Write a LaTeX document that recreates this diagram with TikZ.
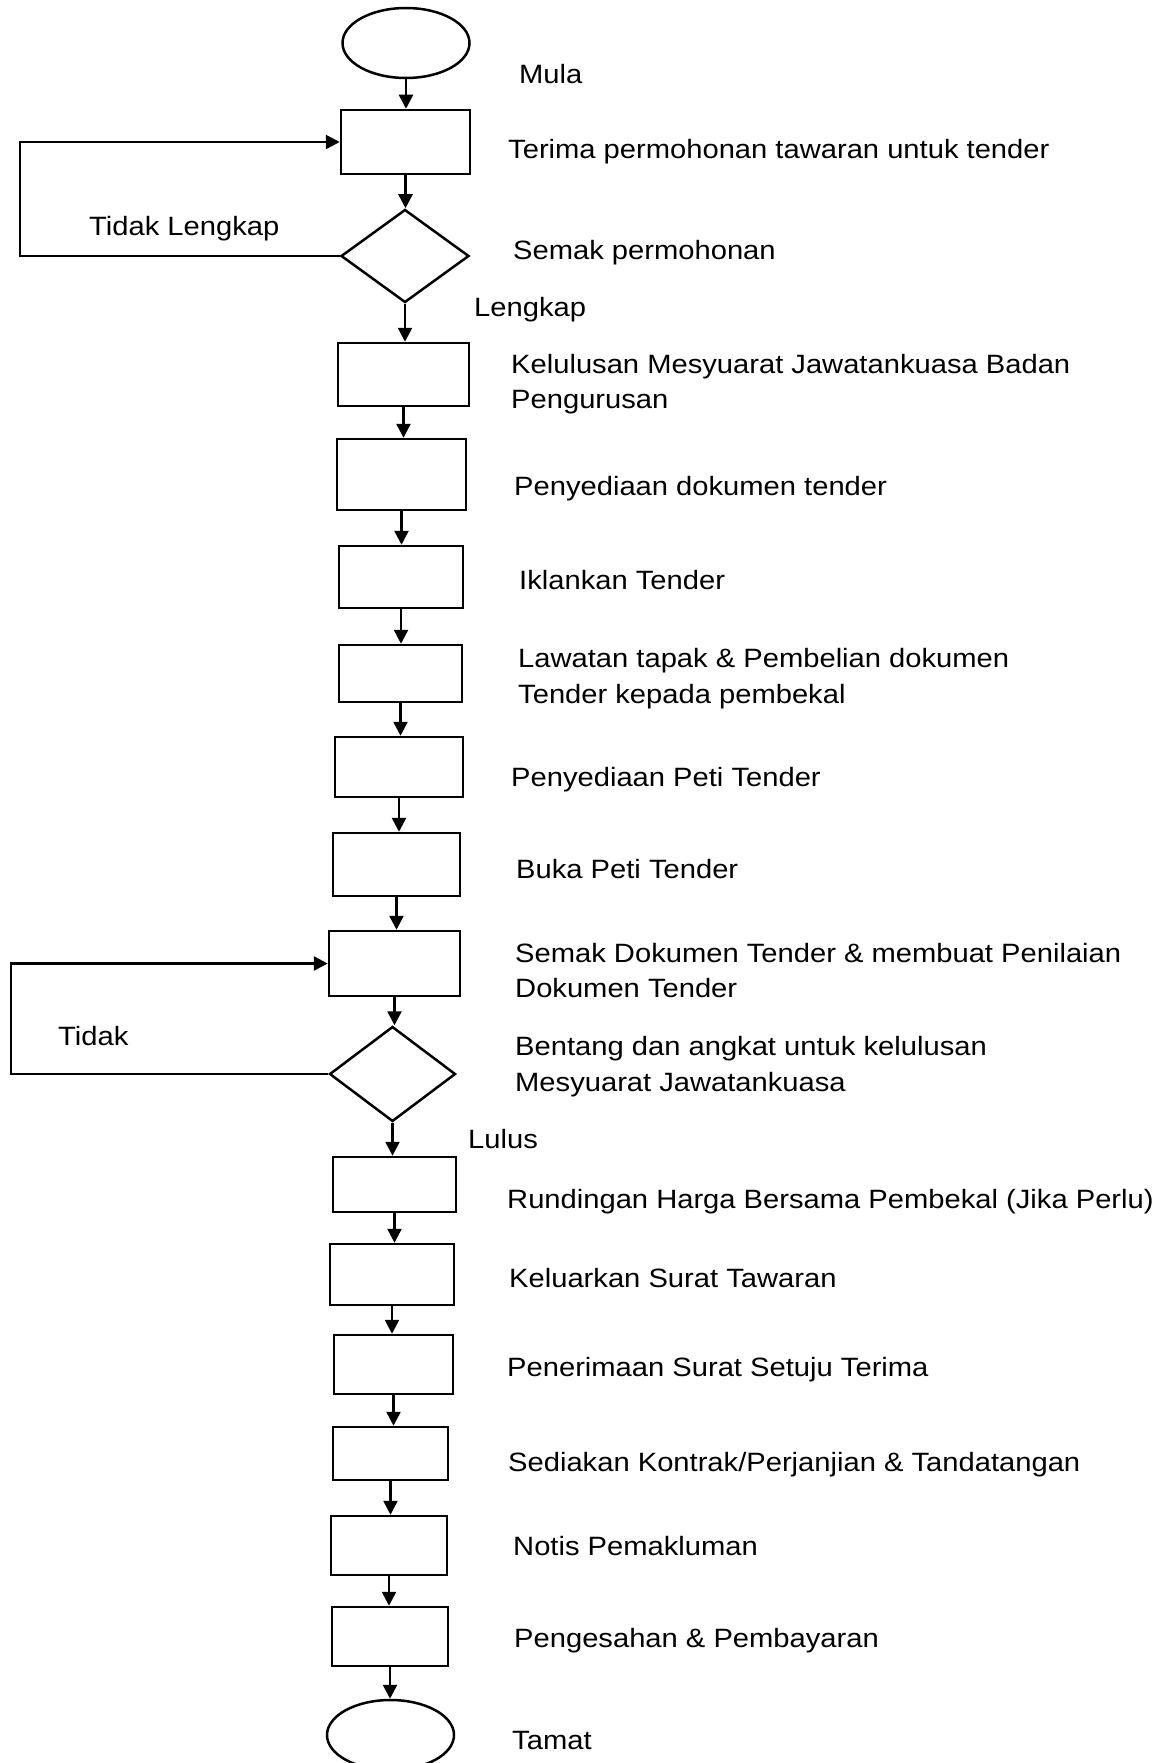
\documentclass[tikz,border=0pt]{standalone}
\usepackage{fontspec}
\setmainfont{Liberation Sans}[FakeStretch=1.1]
\usetikzlibrary{shapes.geometric,arrows.meta}
\begin{document}
\begin{tikzpicture}[x=1pt,y=-1pt,
  every node/.style={inner sep=0pt},
  stepbox/.style={draw, line width=2.5pt, rectangle},
  decide/.style={draw, line width=2.5pt, diamond, minimum width=127pt, minimum height=94pt},
  term/.style={draw, line width=2.5pt, ellipse, minimum width=127pt, minimum height=70pt},
  lbl/.style={anchor=base west, font=\fontsize{26.5}{35.5}\selectfont, align=left},
  flow/.style={line width=2.5pt, -{Triangle[length=14pt,width=14pt]}},
  loopline/.style={line width=2.5pt, -{Triangle[length=14pt,width=14pt]}}
]
\useasboundingbox[fill=white] (0,0) rectangle (1169,1763);

% shapes
\node[term] (start) at (406,43) {};
\node[stepbox, minimum width=129pt, minimum height=64pt] (b1) at (405.5,142) {};
\node[decide, minimum width=128pt, minimum height=93pt] (d1) at (405,256) {};
\node[stepbox, minimum width=131pt, minimum height=63pt] (b2) at (403.5,374.5) {};
\node[stepbox, minimum width=129pt, minimum height=71pt] (b3) at (401.5,474.5) {};
\node[stepbox, minimum width=124pt, minimum height=62pt] (b4) at (401,577) {};
\node[stepbox, minimum width=123pt, minimum height=57pt] (b5) at (400.5,673.5) {};
\node[stepbox, minimum width=128pt, minimum height=60pt] (b6) at (399,767) {};
\node[stepbox, minimum width=127pt, minimum height=63pt] (b7) at (396.5,864.5) {};
\node[stepbox, minimum width=131pt, minimum height=65pt] (b8) at (394.5,963.5) {};
\node[decide, minimum width=126pt, minimum height=95pt] (d2) at (392.5,1074) {};
\node[stepbox, minimum width=123pt, minimum height=55pt] (b9) at (394.5,1184.5) {};
\node[stepbox, minimum width=124pt, minimum height=61pt] (b10) at (392,1274.5) {};
\node[stepbox, minimum width=119pt, minimum height=59pt] (b11) at (393.5,1364.5) {};
\node[stepbox, minimum width=115pt, minimum height=53pt] (b12) at (390.5,1453.5) {};
\node[stepbox, minimum width=116pt, minimum height=59pt] (b13) at (389,1545.5) {};
\node[stepbox, minimum width=116pt, minimum height=59pt] (b14) at (390,1636.5) {};
\node[term] (end) at (390.5,1735) {};

% labels (two-line labels are anchored at the baseline of their last line)
\node[lbl] (t0) at (519,84) {Mula};
\node[lbl] (t1) at (508,159) {Terima permohonan tawaran untuk tender};
\node[lbl] (t2) at (513,259) {Semak permohonan};
\node[lbl] (tl1) at (89,235) {Tidak Lengkap};
\node[lbl] (tl2) at (474,316) {Lengkap};
\node[lbl] (t3) at (511,408.5) {Kelulusan Mesyuarat Jawatankuasa Badan\\Pengurusan};
\node[lbl] (t4) at (514,495.5) {Penyediaan dokumen tender};
\node[lbl] (t5) at (519,589.5) {Iklankan Tender};
\node[lbl] (t6) at (518,703) {Lawatan tapak \& Pembelian dokumen\\Tender kepada pembekal};
\node[lbl] (t7) at (511,786.5) {Penyediaan Peti Tender};
\node[lbl] (t8) at (516,878.5) {Buka Peti Tender};
\node[lbl] (t9) at (515,997.5) {Semak Dokumen Tender \& membuat Penilaian\\Dokumen Tender};
\node[lbl] (t10) at (515,1091) {Bentang dan angkat untuk kelulusan\\Mesyuarat Jawatankuasa};
\node[lbl] (tn) at (58,1045) {Tidak};
\node[lbl] (ty) at (468,1148) {Lulus};
\node[lbl] (t11) at (507,1208) {Rundingan Harga Bersama Pembekal (Jika Perlu)};
\node[lbl] (t12) at (509,1287) {Keluarkan Surat Tawaran};
\node[lbl] (t13) at (507,1376) {Penerimaan Surat Setuju Terima};
\node[lbl] (t14) at (508,1471) {Sediakan Kontrak/Perjanjian \& Tandatangan};
\node[lbl] (t15) at (513,1555) {Notis Pemakluman};
\node[lbl] (t16) at (514,1647) {Pengesahan \& Pembayaran};
\node[lbl] (t17) at (512,1749) {Tamat};

% main flow
\foreach \a/\b in {start/b1, b1/d1, d1/b2, b2/b3, b3/b4, b4/b5, b5/b6, b6/b7, b7/b8, b8/d2, d2/b9, b9/b10, b10/b11, b11/b12, b12/b13, b13/b14, b14/end}
  \draw[flow] (\a.south) -- (\a.south |- \b.north);

% loops
\coordinate (c1) at (20,200);
\coordinate (c2) at (11,1000);
\draw[loopline] (d1.west) -| (c1) |- (b1.west);
\draw[loopline] (d2.west) -| (c2) |- (b8.west);
\end{tikzpicture}
\end{document}
